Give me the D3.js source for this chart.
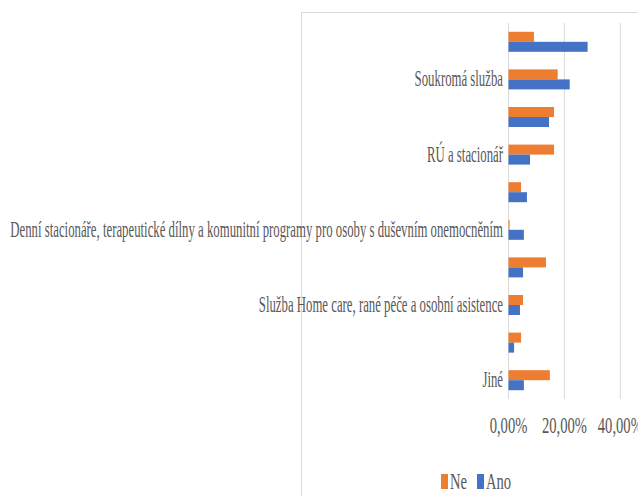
<!DOCTYPE html>
<html>
<head>
<meta charset="utf-8">
<script src="https://cdn.jsdelivr.net/npm/d3@7"></script>
<style>
  html, body { margin: 0; padding: 0; background: #fff; }
  svg { display: block; }
  text { font-family: "Liberation Serif", "Times New Roman", serif; fill: #595959; }
</style>
</head>
<body>
<svg id="chart" width="638" height="496"></svg>
<script>
// Category labels (only every other one is printed on the axis)
const categories = [
  "",
  "Soukromá služba",
  "",
  "RÚ a stacionář",
  "",
  "Denní stacionáře, terapeutické dílny a komunitní programy pro osoby s duševním onemocněním",
  "",
  "Služba Home care, rané péče a osobní asistence",
  "",
  "Jiné"
];
const neValues  = [0.091, 0.176, 0.163, 0.163, 0.045, 0.004, 0.134, 0.052, 0.045, 0.148];
const anoValues = [0.283, 0.219, 0.145, 0.077, 0.066, 0.055, 0.052, 0.041, 0.020, 0.055];
const seriesNames = ["Ne", "Ano"];
const seriesColors = ["#ED7D31", "#4472C4"];
const tickValues = [0, 0.2, 0.4];

const svg = d3.select("#chart");
const fontSize = 24;
const fmt = v => d3.format(".2f")(v * 100).replace(".", ",") + "%";

// horizontal condensing factor so a sample string takes a given width
function condense(sample, width) {
  const t = svg.append("text").attr("font-size", fontSize).text(sample);
  const w = t.node().getComputedTextLength();
  t.remove();
  return width / w;
}
const labelSqueeze = condense(categories[5], 493);
const tickSqueeze = condense("20,00%", 45);

// chart frame
svg.append("path")
  .attr("d", "M301.5,496 V12.5 H638")
  .attr("fill", "none").attr("stroke", "#d9d9d9").attr("stroke-width", 1);

const x = d3.scaleLinear().domain([0, 0.4]).range([508.5, 620.3]);
const y = d3.scaleBand().domain(d3.range(categories.length))
  .range([23, 399]).paddingInner(0.468).paddingOuter(0.234);
const ySub = d3.scaleBand().domain(seriesNames).range([0, y.bandwidth()]);

// vertical gridlines
svg.append("g").selectAll("line").data(tickValues).join("line")
  .attr("x1", d => x(d)).attr("x2", d => x(d))
  .attr("y1", 23).attr("y2", 399)
  .attr("stroke", "#d9d9d9").attr("stroke-width", 1);

// bars
const rows = categories.map((c, i) => ({ i, vals: [neValues[i], anoValues[i]] }));
const groups = svg.append("g").selectAll("g").data(rows).join("g")
  .attr("transform", d => `translate(0,${y(d.i)})`);
groups.selectAll("rect")
  .data(d => d.vals.map((v, k) => ({ v, k })))
  .join("rect")
  .attr("x", x(0))
  .attr("y", d => ySub(seriesNames[d.k]))
  .attr("width", d => x(d.v) - x(0))
  .attr("height", ySub.bandwidth())
  .attr("fill", d => seriesColors[d.k]);

// category labels
svg.append("g").selectAll("text").data(rows.filter(d => categories[d.i] !== "")).join("text")
  .attr("transform", d => `translate(503,${y(d.i) + y.bandwidth() / 2 + 7}) scale(${labelSqueeze},1)`)
  .attr("text-anchor", "end")
  .attr("font-size", fontSize)
  .text(d => categories[d.i]);

// value axis tick labels
svg.append("g").selectAll("text").data(tickValues).join("text")
  .attr("transform", d => `translate(${x(d)},432.5) scale(${tickSqueeze},1)`)
  .attr("text-anchor", "middle")
  .attr("font-size", fontSize)
  .text(fmt);

// legend
const legendItems = [{ name: "Ne", x: 441 }, { name: "Ano", x: 477 }];
const lg = svg.append("g").selectAll("g").data(legendItems).join("g")
  .attr("transform", d => `translate(${d.x},0)`);
lg.append("rect").attr("x", 0).attr("y", 474).attr("width", 7).attr("height", 15)
  .attr("fill", (d, i) => seriesColors[i]);
lg.append("text")
  .attr("transform", `translate(9,489) scale(${tickSqueeze},1)`)
  .attr("font-size", fontSize)
  .text(d => d.name);
</script>
</body>
</html>
